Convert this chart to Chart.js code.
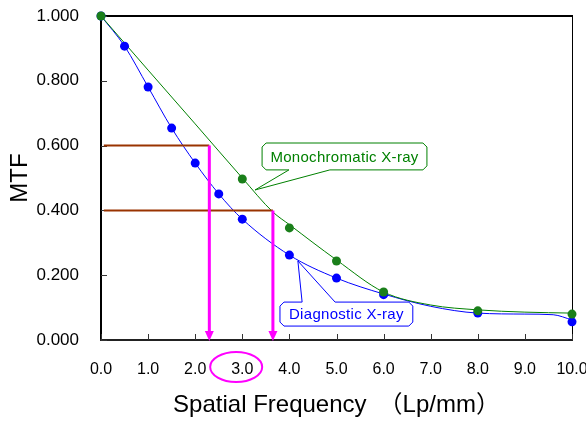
<!DOCTYPE html>
<html>
<head>
<meta charset="utf-8">
<script src="https://cdn.jsdelivr.net/npm/chart.js@4.4.1/dist/chart.umd.min.js"></script>
<style>
  html, body { margin: 0; padding: 0; background: #fff; }
  #wrap { width: 586px; height: 421px; }
</style>
</head>
<body>
<div id="wrap"><canvas id="chart" width="586" height="421"></canvas></div>
<script>
// measured points
const monoX = [0, 3, 4, 5, 6, 8, 10];
const monoMTF = [1.000, 0.497, 0.346, 0.244, 0.148, 0.090, 0.080];
const diagX = [0, 0.5, 1, 1.5, 2, 2.5, 3, 4, 5, 6, 8, 10];
const diagMTF = [1.000, 0.907, 0.781, 0.654, 0.546, 0.451, 0.373, 0.262, 0.191, 0.140, 0.083, 0.056];

// smoothed curves as drawn in the picture
const monoCurveX = [0, 1, 2, 3, 3.65, 4, 5, 6, 7, 8, 9, 10];
const monoCurveY = [1.000, 0.833, 0.667, 0.500, 0.395, 0.356, 0.247, 0.148, 0.108, 0.093, 0.086, 0.083];
const diagCurveX = [0, 0.5, 1, 1.5, 2, 2.5, 3, 4, 5, 6, 7, 8, 9, 9.6, 10];
const diagCurveY = [1.000, 0.907, 0.781, 0.654, 0.546, 0.451, 0.373, 0.262, 0.191, 0.142, 0.104, 0.083, 0.080, 0.078, 0.062];

// reading lines (MTF level -> frequency)
const readMTF = [0.6, 0.4];
const readFreq = [2.3, 3.65];

const xTicks = [0, 1, 2, 3, 4, 5, 6, 7, 8, 9, 10];
const yTicks = [0, 0.2, 0.4, 0.6, 0.8, 1.0];

const toPts = (xs, ys) => xs.map((x, i) => ({ x: x, y: ys[i] }));

const GREEN = "#008000";
const BLUE = "#0000FF";
const MAGENTA = "#FF00FF";
const BROWN = "#993300";

// earlier index is drawn on top when order is equal
const datasets = [
  { data: toPts(monoX, monoMTF), showLine: false, pointRadius: 4.5, pointBackgroundColor: "#1A7F1A", pointBorderWidth: 0, clip: false, order: 1 },
  { data: toPts(diagX, diagMTF), showLine: false, pointRadius: 4.5, pointBackgroundColor: BLUE, pointBorderWidth: 0, clip: false, order: 1 },
  { data: toPts(monoCurveX, monoCurveY), showLine: true, borderColor: GREEN, borderWidth: 1, pointRadius: 0, cubicInterpolationMode: "monotone", order: 5 },
  { data: toPts(diagCurveX, diagCurveY), showLine: true, borderColor: BLUE, borderWidth: 1, pointRadius: 0, cubicInterpolationMode: "monotone", order: 5 }
];
readMTF.forEach((m, i) => {
  datasets.push({ data: [{ x: 0.06, y: m }, { x: readFreq[i], y: m }], showLine: true, borderColor: BROWN, borderWidth: 2, pointRadius: 0, order: 3 });
  datasets.push({ data: [{ x: readFreq[i], y: m }, { x: readFreq[i], y: 0.02 }], showLine: true, borderColor: MAGENTA, borderWidth: 3, pointRadius: 0, order: 2 });
});

const callouts = [
  { text: "Monochromatic X-ray", color: GREEN, box: [3.42, 6.92, 0.608, 0.525], tip: [3.27, 0.463], base: [3.99, 4.86], side: "bottom" },
  { text: "Diagnostic X-ray", color: BLUE, box: [3.80, 6.62, 0.117, 0.043], tip: [4.18, 0.244], base: [4.27, 4.97], side: "top" }
];

// frame and inner ticks, drawn under the data
const frame = {
  id: "frame",
  beforeDatasetsDraw(chart) {
    const ctx = chart.ctx;
    const xs = chart.scales.x, ys = chart.scales.y;
    const a = chart.chartArea;
    const L = Math.round(a.left), R = Math.round(a.right), T = Math.round(a.top), B = Math.round(a.bottom);
    ctx.save();
    ctx.fillStyle = "#000000";
    ctx.fillRect(L, T - 1, R - L + 1, 2);       // top
    ctx.fillRect(R, T - 1, 1, B - T + 1);       // right
    ctx.fillRect(L - 1, T - 1, 2, B - T + 2);   // left
    ctx.fillStyle = "#222222";
    ctx.fillRect(L - 1, B - 1, R - L + 2, 2);   // bottom
    ctx.fillStyle = "#333333";
    xTicks.forEach(v => { const px = Math.round(xs.getPixelForValue(v)); ctx.fillRect(px, B - 6, 1, 6); });
    yTicks.forEach(v => { const py = Math.round(ys.getPixelForValue(v)); ctx.fillRect(L, py, 6, 1); });
    ctx.restore();
  }
};

const extras = {
  id: "extras",
  afterDraw(chart) {
    const ctx = chart.ctx;
    const xs = chart.scales.x, ys = chart.scales.y;
    const a = chart.chartArea;
    ctx.save();
    // arrow heads
    ctx.fillStyle = MAGENTA;
    readFreq.forEach(f => {
      const px = xs.getPixelForValue(f), py = ys.getPixelForValue(0);
      ctx.beginPath();
      ctx.moveTo(px, py + 1); ctx.lineTo(px - 4.5, py - 9); ctx.lineTo(px + 4.5, py - 9); ctx.closePath();
      ctx.fill();
    });

    // callouts
    callouts.forEach(c => {
      const l = xs.getPixelForValue(c.box[0]), r = xs.getPixelForValue(c.box[1]);
      const t = ys.getPixelForValue(c.box[2]), b = ys.getPixelForValue(c.box[3]);
      const tx = xs.getPixelForValue(c.tip[0]), ty = ys.getPixelForValue(c.tip[1]);
      const b0 = xs.getPixelForValue(c.base[0]), b1 = xs.getPixelForValue(c.base[1]);
      const k = 4;
      ctx.strokeStyle = c.color;
      ctx.lineWidth = 1;
      ctx.fillStyle = "#fff";
      ctx.beginPath();
      ctx.moveTo(l + k, t);
      if (c.side === "top") { ctx.lineTo(b0, t); ctx.lineTo(tx, ty); ctx.lineTo(b1, t); }
      ctx.lineTo(r - k, t); ctx.lineTo(r, t + k); ctx.lineTo(r, b - k); ctx.lineTo(r - k, b);
      if (c.side === "bottom") { ctx.lineTo(b1, b); ctx.lineTo(tx, ty); ctx.lineTo(b0, b); }
      ctx.lineTo(l + k, b); ctx.lineTo(l, b - k); ctx.lineTo(l, t + k); ctx.closePath();
      ctx.fill();
      ctx.stroke();
      ctx.fillStyle = c.color;
      ctx.font = "15px 'Liberation Sans', Arial, sans-serif";
      ctx.letterSpacing = "0.3px";
      ctx.textAlign = "center";
      ctx.textBaseline = "middle";
      ctx.fillText(c.text, (l + r) / 2, (t + b) / 2 + 1);
    });

    // circle round the 3.0 label
    ctx.strokeStyle = MAGENTA;
    ctx.lineWidth = 2;
    ctx.beginPath();
    ctx.ellipse(xs.getPixelForValue(2.87), a.bottom + 27, 26, 15, 0, 0, Math.PI * 2);
    ctx.stroke();
    ctx.restore();
  }
};

new Chart(document.getElementById("chart"), {
  type: "scatter",
  data: { datasets: datasets },
  options: {
    responsive: false,
    animation: false,
    devicePixelRatio: 1,
    layout: { padding: { top: 16, right: 14, left: 0, bottom: 0 } },
    plugins: { legend: { display: false }, tooltip: { enabled: false } },
    elements: { line: { tension: 0 } },
    scales: {
      x: {
        type: "linear", min: 0, max: 10,
        afterBuildTicks: s => { s.ticks = xTicks.map(v => ({ value: v })); },
        ticks: { callback: v => v.toFixed(1), color: "#000", font: { size: 16, family: "'Liberation Sans', Arial" }, padding: 20, maxRotation: 0 },
        grid: { display: false, drawTicks: false },
        border: { display: false },
        title: { display: true, text: "Spatial Frequency　（Lp/mm）", color: "#000", font: { size: 24, family: "'Liberation Sans', Arial, 'Noto Sans CJK JP'" }, padding: { top: 0, bottom: 1 } },
        afterFit: s => { s.height = 81; s.paddingLeft = 0; s.paddingRight = 0; }
      },
      y: {
        type: "linear", min: 0, max: 1,
        afterBuildTicks: s => { s.ticks = yTicks.map(v => ({ value: v })); },
        ticks: { callback: v => v.toFixed(3), color: "#000", font: { size: 17, family: "'Liberation Sans', Arial" }, padding: 22 },
        grid: { display: false, drawTicks: false },
        border: { display: false },
        title: { display: true, text: "MTF", color: "#000", font: { size: 24, family: "'Liberation Sans', Arial" }, padding: { top: 6, bottom: 0 } },
        afterFit: s => { s.width = 101; s.paddingTop = 0; s.paddingBottom = 0; }
      }
    }
  },
  plugins: [frame, extras]
});
</script>
</body>
</html>
